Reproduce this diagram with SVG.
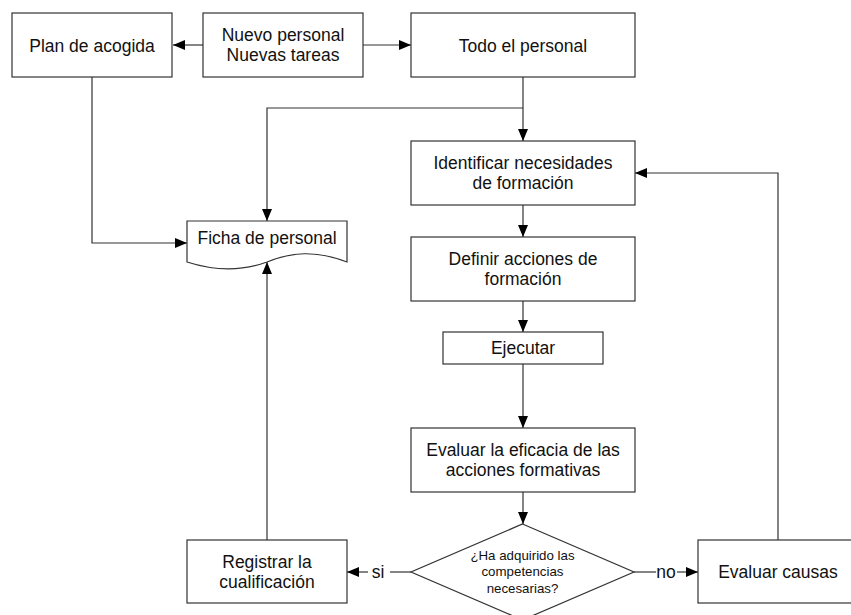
<svg xmlns="http://www.w3.org/2000/svg" width="851" height="615" viewBox="0 0 851 615">
<defs>
<style>
.box{fill:#fff;stroke:#333;stroke-width:1.2}
.ln{fill:none;stroke:#333;stroke-width:1.2}
.t{font-family:"Liberation Sans",Arial,sans-serif;font-size:17.5px;fill:#111;text-anchor:middle}
.s{font-family:"Liberation Sans",Arial,sans-serif;font-size:13.3px;fill:#111;text-anchor:middle}
</style>
<marker id="ah" viewBox="0 0 12 10" refX="12" refY="5" markerWidth="12" markerHeight="10" markerUnits="userSpaceOnUse" orient="auto">
<path d="M0,0 L12,5 L0,10 Z" fill="#000"/>
</marker>
</defs>
<rect width="851" height="615" fill="#fff"/>
<g id="connectors">
<path class="ln" d="M203,45 H173" marker-end="url(#ah)"/>
<path class="ln" d="M363,45 H411" marker-end="url(#ah)"/>
<path class="ln" d="M523,77 V141" marker-end="url(#ah)"/>
<path class="ln" d="M523,108 H267 V221" marker-end="url(#ah)"/>
<path class="ln" d="M92,77 V243 H187" marker-end="url(#ah)"/>
<path class="ln" d="M523,205 V237" marker-end="url(#ah)"/>
<path class="ln" d="M523,301 V332" marker-end="url(#ah)"/>
<path class="ln" d="M523,364 V428" marker-end="url(#ah)"/>
<path class="ln" d="M523,492 V524" marker-end="url(#ah)"/>
<path class="ln" d="M411,572 H390"/>
<path class="ln" d="M368,572 H347" marker-end="url(#ah)"/>
<text class="t" x="378" y="578">si</text>
<path class="ln" d="M634,572 H656"/>
<path class="ln" d="M677,572 H698" marker-end="url(#ah)"/>
<text class="t" x="666" y="578">no</text>
<path class="ln" d="M778,540 V173 H635" marker-end="url(#ah)"/>
<path class="ln" d="M267,540 V262" marker-end="url(#ah)"/>
</g>
<g id="plan">
<rect class="box" x="12" y="13" width="160" height="64"/>
<text class="t" x="92" y="51.5">Plan de acogida</text>
</g>
<g id="nuevo">
<rect class="box" x="203" y="13" width="160" height="64"/>
<text class="t" x="283" y="40.5">Nuevo personal</text>
<text class="t" x="283" y="61">Nuevas tareas</text>
</g>
<g id="todo">
<rect class="box" x="411" y="13" width="224" height="64"/>
<text class="t" x="523" y="51.5">Todo el personal</text>
</g>
<g id="ficha">
<path class="box" d="M187,221 H347 V262 C315,250 292,252 267,262 C240,272 212,270 187,262 Z"/>
<text class="t" x="267" y="243.5">Ficha de personal</text>
</g>
<g id="identificar">
<rect class="box" x="411" y="141" width="224" height="64"/>
<text class="t" x="523" y="168.5">Identificar necesidades</text>
<text class="t" x="523" y="189">de formación</text>
</g>
<g id="definir">
<rect class="box" x="411" y="237" width="224" height="64"/>
<text class="t" x="523" y="264.5">Definir acciones de</text>
<text class="t" x="523" y="285">formación</text>
</g>
<g id="ejecutar">
<rect class="box" x="443" y="332" width="160" height="32"/>
<text class="t" x="523" y="354">Ejecutar</text>
</g>
<g id="evaluar">
<rect class="box" x="411" y="428" width="224" height="64"/>
<text class="t" x="523" y="455.5">Evaluar la eficacia de las</text>
<text class="t" x="523" y="476">acciones formativas</text>
</g>
<g id="decision">
<path class="box" d="M522.5,524 L634,572 L522.5,620 L411,572 Z"/>
<text class="s" x="522.5" y="559.5">¿Ha adquirido las</text>
<text class="s" x="522.5" y="576">competencias</text>
<text class="s" x="522.5" y="592.5">necesarias?</text>
</g>
<g id="registrar">
<rect class="box" x="187" y="540" width="160" height="63"/>
<text class="t" x="267" y="567.5">Registrar la</text>
<text class="t" x="267" y="588">cualificación</text>
</g>
<g id="causas">
<rect class="box" x="698" y="540" width="160" height="63"/>
<text class="t" x="778" y="577.5">Evaluar causas</text>
</g>
</svg>
